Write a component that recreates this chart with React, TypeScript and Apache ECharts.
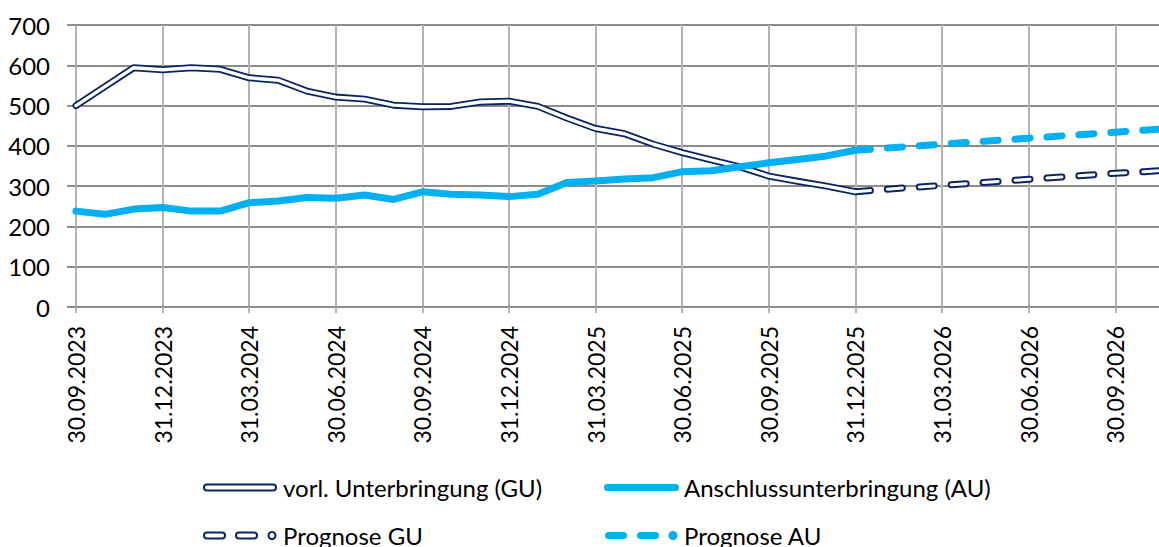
import React, { useEffect, useRef } from "react";
import * as echarts from "echarts";

const categories = [
  "30.09.2023", "31.10.2023", "30.11.2023", "31.12.2023",
  "31.01.2024", "29.02.2024", "31.03.2024", "30.04.2024", "31.05.2024", "30.06.2024",
  "31.07.2024", "31.08.2024", "30.09.2024", "31.10.2024", "30.11.2024", "31.12.2024",
  "31.01.2025", "28.02.2025", "31.03.2025", "30.04.2025", "31.05.2025", "30.06.2025",
  "31.07.2025", "31.08.2025", "30.09.2025", "31.10.2025", "30.11.2025", "31.12.2025",
  "31.01.2026", "28.02.2026", "31.03.2026", "30.04.2026", "31.05.2026", "30.06.2026",
  "31.07.2026", "31.08.2026", "30.09.2026", "31.10.2026", "30.11.2026",
];

// vorl. Unterbringung (GU), 30.09.2023 .. 31.12.2025
const guActual = [
  500, 547, 594, 589, 594, 590, 569, 563, 536, 521, 516, 501, 497, 498,
  509, 511, 498, 469, 443, 430, 404, 383, 365, 348, 325, 312, 300, 286,
];

// Anschlussunterbringung (AU), 30.09.2023 .. 31.12.2025
const auActual = [
  238, 230, 243, 247, 238, 238, 259, 263, 272, 270, 278, 267, 286, 280,
  278, 274, 280, 309, 313, 318, 321, 336, 338, 348, 358, 366, 375, 389,
];

// Prognose GU, 31.12.2025 .. 30.11.2026
const guForecast = [286, 292, 297, 302, 307, 312, 317, 322, 327, 332, 336, 341];

// Prognose AU, 31.12.2025 .. 30.11.2026
const auForecast = [389, 394, 399, 404, 409, 414, 419, 424, 429, 434, 439, 444];

const legendLabels = [
  "vorl. Unterbringung (GU)",
  "Anschlussunterbringung (AU)",
  "Prognose GU",
  "Prognose AU",
];

const yMin = 0;
const yMax = 700;
const yStep = 100;

const NAVY = "#0A2463";
const CYAN = "#00B0F0";
const FONT = "Lato";

export default function App() {
  const ref = useRef<HTMLDivElement>(null);

  useEffect(() => {
    document.body.style.margin = "0";
    if (!ref.current) return;
    const chart = echarts.init(ref.current, undefined, { renderer: "svg" });

    const n = categories.length;
    const start = guActual.length - 1;
    const pad = (arr: number[], offset: number) => {
      const out: (number | null)[] = new Array(n).fill(null);
      arr.forEach((v, i) => {
        if (offset + i < n) out[offset + i] = v;
      });
      return out;
    };

    const guA = pad(guActual, 0);
    const auA = pad(auActual, 0);
    const guF = pad(guForecast, start);
    const auF = pad(auForecast, start);

    const base = {
      type: "line" as const,
      showSymbol: false,
      symbol: "none",
      silent: true,
      connectNulls: false,
    };

    const dash = [15, 17];

    const legendY1 = 487.5;
    const legendY2 = 535.5;
    const textX1 = 283;
    const textX2 = 684;

    const legendText = (x: number, y: number, t: string) => ({
      type: "text",
      x,
      y,
      style: {
        text: t,
        fontFamily: FONT,
        fontSize: 24,
        fill: "#000",
        verticalAlign: "middle",
      },
    });

    chart.setOption({
      animation: false,
      grid: { left: 76, top: 25, right: 7, bottom: 240, containLabel: false },
      xAxis: {
        type: "category",
        data: categories,
        boundaryGap: false,
        axisLine: { show: true, lineStyle: { color: "#8c8c8c", width: 2 } },
        axisTick: {
          show: true,
          interval: 2,
          length: 6,
          lineStyle: { color: "#b4b4b4", width: 2 },
        },
        axisLabel: {
          interval: 2,
          rotate: 90,
          margin: 19,
          fontFamily: FONT,
          fontSize: 23,
          color: "#000",
        },
        splitLine: {
          show: true,
          interval: 2,
          showMinLine: true,
          lineStyle: { color: "#b4b4b4", width: 2 },
        },
      },
      yAxis: {
        type: "value",
        min: yMin,
        max: yMax,
        interval: yStep,
        axisLine: { show: false },
        axisTick: { show: true, length: 9, lineStyle: { color: "#8c8c8c", width: 2 } },
        axisLabel: {
          margin: 26,
          fontFamily: FONT,
          fontSize: 24,
          color: "#000",
        },
        splitLine: { show: true, lineStyle: { color: "#8c8c8c", width: 2 } },
      },
      series: [
        {
          ...base,
          name: "GU outer",
          data: guA,
          z: 2,
          lineStyle: { color: NAVY, width: 7, join: "round", cap: "round" },
        },
        {
          ...base,
          name: "GU inner",
          data: guA,
          z: 3,
          lineStyle: { color: "#ffffff", width: 3.4, join: "round", cap: "round" },
        },
        {
          ...base,
          name: "Prognose GU outer",
          data: guF,
          z: 2,
          lineStyle: { color: NAVY, width: 7, type: dash, cap: "round", join: "round" },
        },
        {
          ...base,
          name: "Prognose GU inner",
          data: guF,
          z: 3,
          lineStyle: {
            color: "#ffffff",
            width: 3,
            type: dash,
            dashOffset: 0,
            cap: "round",
            join: "round",
          },
        },
        {
          ...base,
          name: "AU",
          data: auA,
          z: 4,
          lineStyle: { color: CYAN, width: 7, join: "round", cap: "round" },
        },
        {
          ...base,
          name: "Prognose AU",
          data: auF,
          z: 4,
          lineStyle: { color: CYAN, width: 7, type: dash, cap: "round", join: "round" },
        },
      ],
      graphic: [
        // Row 1: GU
        {
          type: "rect",
          shape: { x: 204, y: legendY1 - 3, width: 72, height: 6, r: 3 },
          style: { fill: "#ffffff", stroke: NAVY, lineWidth: 2 },
        },
        legendText(textX1, legendY1, legendLabels[0]),
        // Row 1: AU
        {
          type: "rect",
          shape: { x: 604, y: legendY1 - 3.5, width: 75, height: 7, r: 3.5 },
          style: { fill: CYAN },
        },
        legendText(textX2, legendY1, legendLabels[1]),
        // Row 2: Prognose GU
        {
          type: "rect",
          shape: { x: 204, y: legendY2 - 3, width: 21, height: 6, r: 3 },
          style: { fill: "#ffffff", stroke: NAVY, lineWidth: 2 },
        },
        {
          type: "rect",
          shape: { x: 236, y: legendY2 - 3, width: 21, height: 6, r: 3 },
          style: { fill: "#ffffff", stroke: NAVY, lineWidth: 2 },
        },
        {
          type: "circle",
          shape: { cx: 272, cy: legendY2, r: 3.5 },
          style: { fill: "#ffffff", stroke: NAVY, lineWidth: 2 },
        },
        legendText(textX1, legendY2, legendLabels[2]),
        // Row 2: Prognose AU
        {
          type: "rect",
          shape: { x: 605, y: legendY2 - 3.5, width: 22, height: 7, r: 3.5 },
          style: { fill: CYAN },
        },
        {
          type: "rect",
          shape: { x: 637, y: legendY2 - 3.5, width: 22, height: 7, r: 3.5 },
          style: { fill: CYAN },
        },
        {
          type: "circle",
          shape: { cx: 673, cy: legendY2, r: 4.5 },
          style: { fill: CYAN },
        },
        legendText(textX2, legendY2, legendLabels[3]),
      ],
    });

    return () => {
      chart.dispose();
    };
  }, []);

  return (
    <div style={{ width: 1159, height: 547, overflow: "hidden", position: "relative" }}>
      <div ref={ref} style={{ width: 1180, height: 547 }} />
    </div>
  );
}
